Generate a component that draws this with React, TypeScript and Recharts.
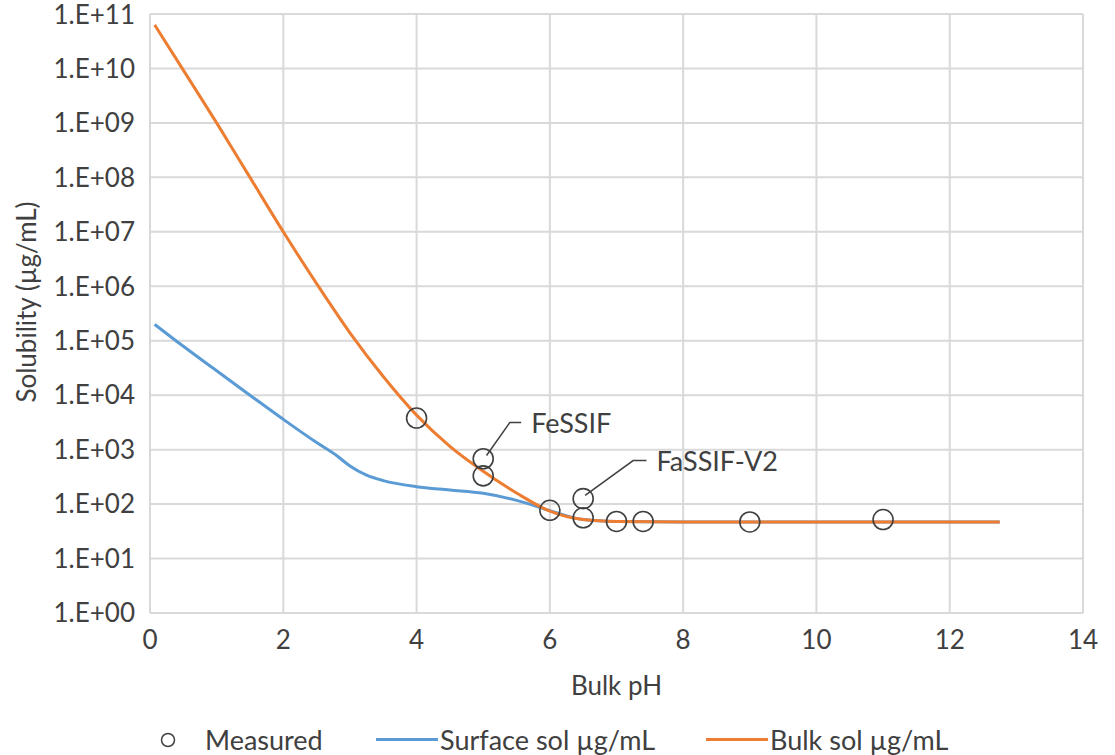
import React from 'react';
import {
  ComposedChart,
  Line,
  Scatter,
  XAxis,
  YAxis,
  CartesianGrid,
  Legend,
  ReferenceDot,
} from 'recharts';

const FONT = 'Lato, "Open Sans", sans-serif';
const TEXT = '#404040';
const BLUE = '#5B9BD5';
const ORANGE = '#ED7D31';

// surface solubility curve
const surfacePh = [0.07, 0.5, 1, 1.5, 2, 2.5, 2.8, 3, 3.25, 3.5, 4, 4.5, 5, 5.5, 6, 6.5, 7, 8, 9, 10, 11, 12, 12.75];
const surfaceSol = [2.0e5, 7.9e4, 2.8e4, 1.0e4, 3.6e3, 1.35e3, 780, 500, 340, 270, 209, 182, 158, 117, 76, 52, 48, 47, 47, 47, 47, 47, 47];

// bulk solubility curve
const bulkPh = [0.07, 0.5, 1, 1.5, 2, 2.5, 3, 3.5, 4, 4.5, 5, 5.5, 6, 6.5, 7, 8, 9, 10, 11, 12, 12.75];
const bulkSol = [6.3e10, 9.3e9, 1.0e9, 1.0e8, 1.0e7, 1.12e6, 1.4e5, 2.2e4, 4.3e3, 1.15e3, 400, 160, 74, 52, 48, 47, 47, 47, 47, 47, 47];

// measured points
const measuredPh = [4, 5, 5, 6, 6.5, 6.5, 7, 7.4, 9, 11];
const measuredSol = [3800, 680, 330, 77, 126, 56, 48, 48, 47, 52];

// callouts: leader line points and label anchor
const fessifLeaderPh = [5.05, 5.4, 5.57];
const fessifLeaderSol = [780, 3160, 3160];
const fassifLeaderPh = [6.53, 7.25, 7.45];
const fassifLeaderSol = [145, 630, 630];
const calloutLabels = [
  { text: 'FeSSIF', ph: 5.72, sol: 3160 },
  { text: 'FaSSIF-V2', ph: 7.6, sol: 630 },
];

const xTicks = [0, 2, 4, 6, 8, 10, 12, 14];
const yTicks = [1, 1e1, 1e2, 1e3, 1e4, 1e5, 1e6, 1e7, 1e8, 1e9, 1e10, 1e11];

const surfaceData = surfacePh.map((ph, i) => ({ ph, sol: surfaceSol[i] }));
const bulkData = bulkPh.map((ph, i) => ({ ph, sol: bulkSol[i] }));
const measuredData = measuredPh.map((ph, i) => ({ ph, sol: measuredSol[i] }));
const fessifLeader = fessifLeaderPh.map((ph, i) => ({ ph, sol: fessifLeaderSol[i] }));
const fassifLeader = fassifLeaderPh.map((ph, i) => ({ ph, sol: fassifLeaderSol[i] }));

const formatExp = (v: number) => {
  const e = Math.round(Math.log10(v));
  return `1.E+${String(e).padStart(2, '0')}`;
};

const OpenCircle = (props: any) => {
  const { cx, cy } = props;
  if (cx == null || cy == null) return null;
  return <circle cx={cx} cy={cy} r={10} fill="none" stroke={TEXT} strokeWidth={1.6} />;
};

const renderLegend = () => (
  <div style={{ position: 'relative', width: 1115, height: 30, fontFamily: FONT, fontSize: 27, color: TEXT }}>
    <svg style={{ position: 'absolute', left: 160, top: 7 }} width={16} height={16}>
      <circle cx={8} cy={8} r={6.5} fill="none" stroke={TEXT} strokeWidth={1.5} />
    </svg>
    <span style={{ position: 'absolute', left: 205, top: 0, lineHeight: '30px', whiteSpace: 'nowrap' }}>Measured</span>
    <div style={{ position: 'absolute', left: 376, top: 13, width: 62, height: 3, background: BLUE }} />
    <span style={{ position: 'absolute', left: 440, top: 0, lineHeight: '30px', whiteSpace: 'nowrap' }}>Surface sol µg/mL</span>
    <div style={{ position: 'absolute', left: 706, top: 13, width: 62, height: 3, background: ORANGE }} />
    <span style={{ position: 'absolute', left: 770, top: 0, lineHeight: '30px', whiteSpace: 'nowrap' }}>Bulk sol µg/mL</span>
  </div>
);

const YLabel = () => (
  <text
    x={26}
    y={302}
    transform="rotate(-90, 26, 302)"
    textAnchor="middle"
    dominantBaseline="central"
    fill={TEXT}
    fontFamily={FONT}
    fontSize={26}
  >
    Solubility (µg/mL)
  </text>
);

export default function App() {
  return (
    <div style={{ position: 'absolute', left: 0, top: 0, background: '#fff' }}>
      <ComposedChart width={1115} height={755} margin={{ top: 14, right: 32, left: 0, bottom: 0 }}>
        <CartesianGrid stroke="#d9d9d9" strokeWidth={2} />
        <XAxis
          type="number"
          dataKey="ph"
          domain={[0, 14]}
          ticks={xTicks}
          height={112}
          axisLine={false}
          tickLine={false}
          tickSize={0}
          tickMargin={18}
          tick={{ fill: TEXT, fontSize: 26, fontFamily: FONT }}
          label={{ value: 'Bulk pH', position: 'insideBottom', offset: 30, fill: TEXT, fontSize: 26, fontFamily: FONT }}
        />
        <YAxis
          type="number"
          dataKey="sol"
          scale="log"
          domain={[1, 1e11]}
          allowDataOverflow
          ticks={yTicks}
          width={150}
          axisLine={false}
          tickLine={false}
          tickSize={0}
          tickMargin={15}
          tickFormatter={formatExp}
          tick={{ fill: TEXT, fontSize: 26, fontFamily: FONT }}
          label={<YLabel />}
        />
        <Legend verticalAlign="bottom" height={30} wrapperStyle={{ left: 0, bottom: 0, width: 1115 }} content={renderLegend} />
        <Line data={surfaceData} dataKey="sol" type="monotone" stroke={BLUE} strokeWidth={3} dot={false} isAnimationActive={false} name="Surface sol µg/mL" />
        <Line data={bulkData} dataKey="sol" type="monotone" stroke={ORANGE} strokeWidth={3} dot={false} isAnimationActive={false} name="Bulk sol µg/mL" />
        <Scatter data={measuredData} dataKey="sol" shape={<OpenCircle />} isAnimationActive={false} name="Measured" />
        <Line data={fessifLeader} dataKey="sol" type="linear" stroke={TEXT} strokeWidth={1.5} dot={false} isAnimationActive={false} legendType="none" />
        <Line data={fassifLeader} dataKey="sol" type="linear" stroke={TEXT} strokeWidth={1.5} dot={false} isAnimationActive={false} legendType="none" />
        {calloutLabels.map((c) => (
          <ReferenceDot
            key={c.text}
            x={c.ph}
            y={c.sol}
            r={0}
            shape={(p: any) => (
              <text x={p.cx} y={p.cy} dominantBaseline="central" fill={TEXT} fontSize={27} fontFamily={FONT}>
                {c.text}
              </text>
            )}
          />
        ))}
      </ComposedChart>
    </div>
  );
}
